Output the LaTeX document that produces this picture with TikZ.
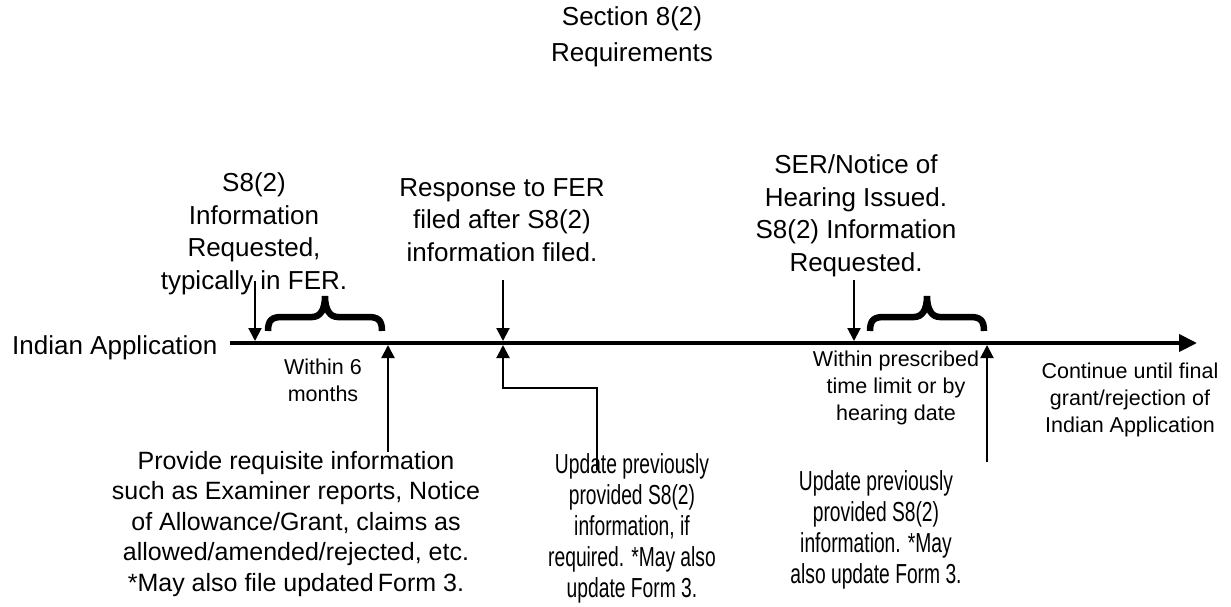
\documentclass[tikz,border=0pt]{standalone}
\usepackage{fontspec}
\setmainfont{Liberation Sans}
\newfontfamily\condfont[FakeStretch=0.7]{Liberation Sans}
\usetikzlibrary{arrows.meta}
\tikzset{
  big/.style={font=\fontsize{26}{32.5}\selectfont, align=center, inner sep=0pt},
  title/.style={font=\fontsize{26}{36}\selectfont, align=center, inner sep=0pt},
  small/.style={font=\fontsize{21.5}{27}\selectfont, align=center, inner sep=0pt},
  mid/.style={font=\fontsize{25}{30.5}\selectfont, align=center, inner sep=0pt},
  cond/.style={font=\condfont\fontsize{27.5}{31}\selectfont, align=center, inner sep=0pt},
  timeline/.style={line width=4pt, -{Triangle[length=18pt,width=17pt]}},
  pointer/.style={line width=2pt, -{Triangle[length=13pt,width=13pt]}},
  bracestyle/.style={line width=6.5pt, line join=miter},
}
\begin{document}
\begin{tikzpicture}[x=1pt,y=-1pt]
\useasboundingbox (0,0) rectangle (1231,606);

% texts
\node[title] (ttl) at (632,37) {Section 8(2)\\Requirements};
\node[big, anchor=base west] (app) at (12,354) {Indian Application};
\node[big] (req) at (254,234) {S8(2)\\Information\\Requested,\\typically in FER.};
\node[big] (resp) at (502,220) {Response to FER\\filed after S8(2)\\information filed.};
\node[big] (ser) at (856,216) {SER/Notice of\\Hearing Issued.\\S8(2) Information\\Requested.};
\node[small] (six) at (323,380) {Within 6\\months};
\node[small] (presc) at (896,388) {Within prescribed\\time limit or by\\hearing date};
\node[small] (cont) at (1130,400) {Continue until final\\grant/rejection of\\Indian Application};
\node[mid] (provide) at (296,524) {Provide requisite information\\such as Examiner reports, Notice\\of Allowance/Grant, claims as\\allowed/amended/rejected, etc.\\*May also file updated\,Form 3.};
\node[cond] (upd1) at (632,528) {Update previously\\provided S8(2)\\information, if\\required. *May also\\update Form 3.};
\node[cond] (upd2) at (876,530) {Update previously\\provided S8(2)\\information. *May\\also update Form 3.};

% coordinates
\coordinate (tl0) at (230,343);
\coordinate (tl1) at (1197,343);
\coordinate (a1s) at (255,281);
\coordinate (a1e) at (255,341);
\coordinate (a2s) at (503,280);
\coordinate (a2e) at (503,341);
\coordinate (a3s) at (854,280);
\coordinate (a3e) at (854,341);
\coordinate (u1s) at (388,452);
\coordinate (u1e) at (388,345);
\coordinate (u2s) at (597,470);
\coordinate (u2k) at (597,388);
\coordinate (u2j) at (503,388);
\coordinate (u2e) at (503,345);
\coordinate (u3s) at (987,462);
\coordinate (u3e) at (987,345);

% timeline
\draw[timeline] (tl0) -- (tl1);

% arrows
\draw[pointer] (a1s) -- (a1e);
\draw[pointer] (a2s) -- (a2e);
\draw[pointer] (a3s) -- (a3e);
\draw[pointer] (u1s) -- (u1e);
\draw[pointer] (u2s) -- (u2k) -- (u2j) -- (u2e);
\draw[pointer] (u3s) -- (u3e);

% braces
\draw[bracestyle] (268,331) .. controls (268,320) and (272,317) .. (282,317) -- (312,317) .. controls (320,317) and (325,310) .. (325,296) .. controls (325,310) and (330,317) .. (338,317) -- (368,317) .. controls (378,317) and (382,320) .. (382,331);
\draw[bracestyle] (870,331) .. controls (870,320) and (874,317) .. (884,317) -- (914,317) .. controls (922,317) and (927,310) .. (927,296) .. controls (927,310) and (932,317) .. (940,317) -- (970,317) .. controls (980,317) and (984,320) .. (984,331);
\end{tikzpicture}
\end{document}
